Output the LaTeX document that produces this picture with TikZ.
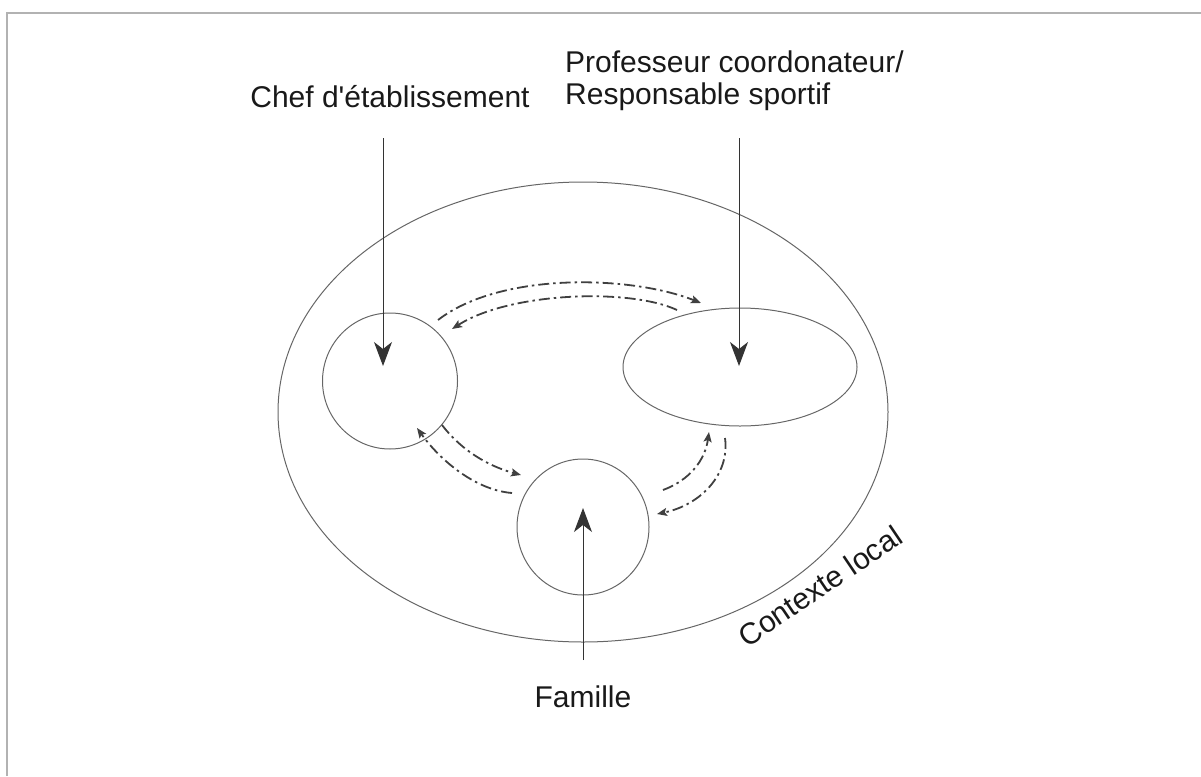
\documentclass[tikz,border=0pt]{standalone}
\usepackage{fontspec}
\setmainfont{Liberation Sans}
\usetikzlibrary{arrows.meta,shapes.geometric}
\begin{document}
\begin{tikzpicture}[x=1pt,y=-1pt,
  zone/.style={draw=black!60, line width=1pt, ellipse, inner sep=0pt},
  lbl/.style={font=\fontsize{30}{36}\selectfont, inner sep=0pt, text=black!90},
  mainarrow/.style={draw=black!80, line width=1pt, -{Stealth[length=24pt,width=18pt,inset=7pt]}},
  flow/.style={draw=black!75, line width=1.8pt, dash pattern=on 11pt off 4pt on 2.5pt off 4pt, -{Stealth[length=10pt,width=8pt,inset=2pt]}}
]
\useasboundingbox (0,0) rectangle (1201,776);
\draw[black!30, line width=2.5pt] (7,776) -- (7,13) -- (1201,13);

\node[zone, minimum width=610pt, minimum height=460pt] (ctx) at (583,412) {};
\node[zone, minimum width=135pt, minimum height=136pt] (chef) at (390,381) {};
\node[zone, minimum width=234pt, minimum height=118pt] (prof) at (740,367) {};
\node[zone, minimum width=132pt, minimum height=136pt] (fam) at (583,527) {};

\node[lbl] (tchef) at (390,97) {Chef d\textquotesingle établissement};
\node[lbl, anchor=west] (tprof1) at (565,62) {Professeur coordonateur/};
\node[lbl, anchor=west] (tprof2) at (565,97) {Responsable sportif};
\node[lbl] (tfam) at (583,697) {Famille};
\node[lbl, rotate=34] (tctx) at (820,586) {Contexte local};

\coordinate (chefTop) at (383,138);
\coordinate (chefTip) at (383,366);
\coordinate (profTop) at (739,138);
\coordinate (profTip) at (739,366);
\coordinate (famBot) at (583,660);
\coordinate (famTip) at (583,508);
\draw[mainarrow] (chefTop) -- (chefTip);
\draw[mainarrow] (profTop) -- (profTip);
\draw[mainarrow] (famBot) -- (famTip);

% top pair
\coordinate (a1) at (438,320); \coordinate (a2) at (701,303);
\coordinate (b1) at (677,310); \coordinate (b2) at (452,329);
\draw[flow] (a1) .. controls (500,272) and (630,275) .. (a2);
\draw[flow] (b1) .. controls (630,288) and (510,292) .. (b2);
% bottom-left pair
\coordinate (c1) at (442,425); \coordinate (c2) at (521,475);
\coordinate (d1) at (512,493); \coordinate (d2) at (417,428);
\draw[flow] (c1) .. controls (465,455) and (495,468) .. (c2);
\draw[flow] (d1) .. controls (475,490) and (440,460) .. (d2);
% bottom-right pair
\coordinate (e1) at (663,490); \coordinate (e2) at (709,432);
\coordinate (f1) at (725,438); \coordinate (f2) at (657,514);
\draw[flow] (e1) .. controls (690,480) and (705,460) .. (e2);
\draw[flow] (f1) .. controls (730,475) and (700,505) .. (f2);
\end{tikzpicture}
\end{document}
